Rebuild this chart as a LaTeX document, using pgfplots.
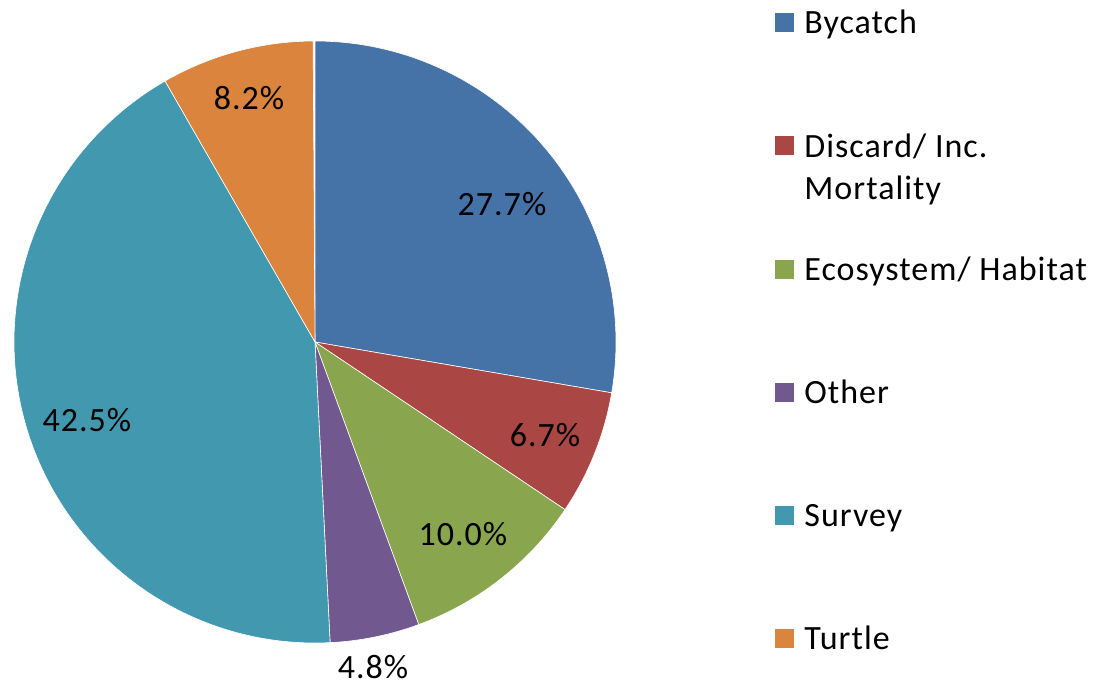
\documentclass[border=0pt]{standalone}
\usepackage{pgfplots}
\pgfplotsset{compat=1.18}
\usepackage{fontspec}
\setmainfont[LetterSpace=3]{Carlito}
\definecolor{cBy}{HTML}{4572A7}
\definecolor{cDi}{HTML}{AA4643}
\definecolor{cEc}{HTML}{89A54E}
\definecolor{cOt}{HTML}{71588F}
\definecolor{cSu}{HTML}{4198AF}
\definecolor{cTu}{HTML}{DB843D}
% shares (%): Bycatch 27.7, Discard 6.7, Ecosystem 10.0, Other 4.8, Survey 42.5, Turtle 8.2
\newcommand{\cx}{315}
\newcommand{\cy}{342}
\newcommand{\rr}{301}
\begin{document}
\begin{tikzpicture}
\begin{axis}[width=546.5pt, height=342.5pt, scale only axis,
  xmin=0, xmax=1093, ymin=0, ymax=685, y dir=reverse,
  hide axis, clip=false]
\path (axis cs:0,0) rectangle (axis cs:1093,685);
% slices: start at 12 o'clock, clockwise; angle = 90 - 3.6*cumulative share
\addplot[fill=cBy, draw=white, line width=0.3pt, domain={90-3.6*27.7}:{90-3.6*0}, samples=90, variable=\t]
  ({\cx+\rr*cos(\t)},{\cy-\rr*sin(\t)}) -- (axis cs:\cx,\cy) -- cycle;
\addplot[fill=cDi, draw=white, line width=0.3pt, domain={90-3.6*34.4}:{90-3.6*27.7}, samples=40, variable=\t]
  ({\cx+\rr*cos(\t)},{\cy-\rr*sin(\t)}) -- (axis cs:\cx,\cy) -- cycle;
\addplot[fill=cEc, draw=white, line width=0.3pt, domain={90-3.6*44.4}:{90-3.6*34.4}, samples=40, variable=\t]
  ({\cx+\rr*cos(\t)},{\cy-\rr*sin(\t)}) -- (axis cs:\cx,\cy) -- cycle;
\addplot[fill=cOt, draw=white, line width=0.3pt, domain={90-3.6*49.2}:{90-3.6*44.4}, samples=30, variable=\t]
  ({\cx+\rr*cos(\t)},{\cy-\rr*sin(\t)}) -- (axis cs:\cx,\cy) -- cycle;
\addplot[fill=cSu, draw=white, line width=0.3pt, domain={90-3.6*91.7}:{90-3.6*49.2}, samples=120, variable=\t]
  ({\cx+\rr*cos(\t)},{\cy-\rr*sin(\t)}) -- (axis cs:\cx,\cy) -- cycle;
\addplot[fill=cTu, draw=white, line width=0.3pt, domain={90-3.6*99.9}:{90-3.6*91.7}, samples=40, variable=\t]
  ({\cx+\rr*cos(\t)},{\cy-\rr*sin(\t)}) -- (axis cs:\cx,\cy) -- cycle;
% data labels
\begin{scope}[every node/.style={inner sep=0pt, font=\fontsize{17pt}{20pt}\selectfont, text=black}]
\node at (axis cs:502,204) {27.7\%};
\node at (axis cs:545,435) {6.7\%};
\node at (axis cs:463,534) {10.0\%};
\node at (axis cs:373,667) {4.8\%};
\node at (axis cs:87,420) {42.5\%};
\node at (axis cs:249,98) {8.2\%};
\end{scope}
% legend
\begin{scope}[every node/.style={inner sep=0pt, anchor=base west, font=\fontsize{17pt}{21pt}\selectfont, text=black}]
\fill[cBy] (axis cs:775,13) rectangle (axis cs:794,32);
\node at (axis cs:804,33) {Bycatch};
\fill[cDi] (axis cs:775,136) rectangle (axis cs:794,155);
\node at (axis cs:804,157) {Discard/ Inc.};
\node at (axis cs:804,199) {Mortality};
\fill[cEc] (axis cs:775,260) rectangle (axis cs:794,279);
\node at (axis cs:804,280) {Ecosystem/ Habitat};
\fill[cOt] (axis cs:775,383) rectangle (axis cs:794,402);
\node at (axis cs:804,403) {Other};
\fill[cSu] (axis cs:775,506) rectangle (axis cs:794,525);
\node at (axis cs:804,526) {Survey};
\fill[cTu] (axis cs:775,629) rectangle (axis cs:794,648);
\node at (axis cs:804,649) {Turtle};
\end{scope}
\end{axis}
\end{tikzpicture}
\end{document}
